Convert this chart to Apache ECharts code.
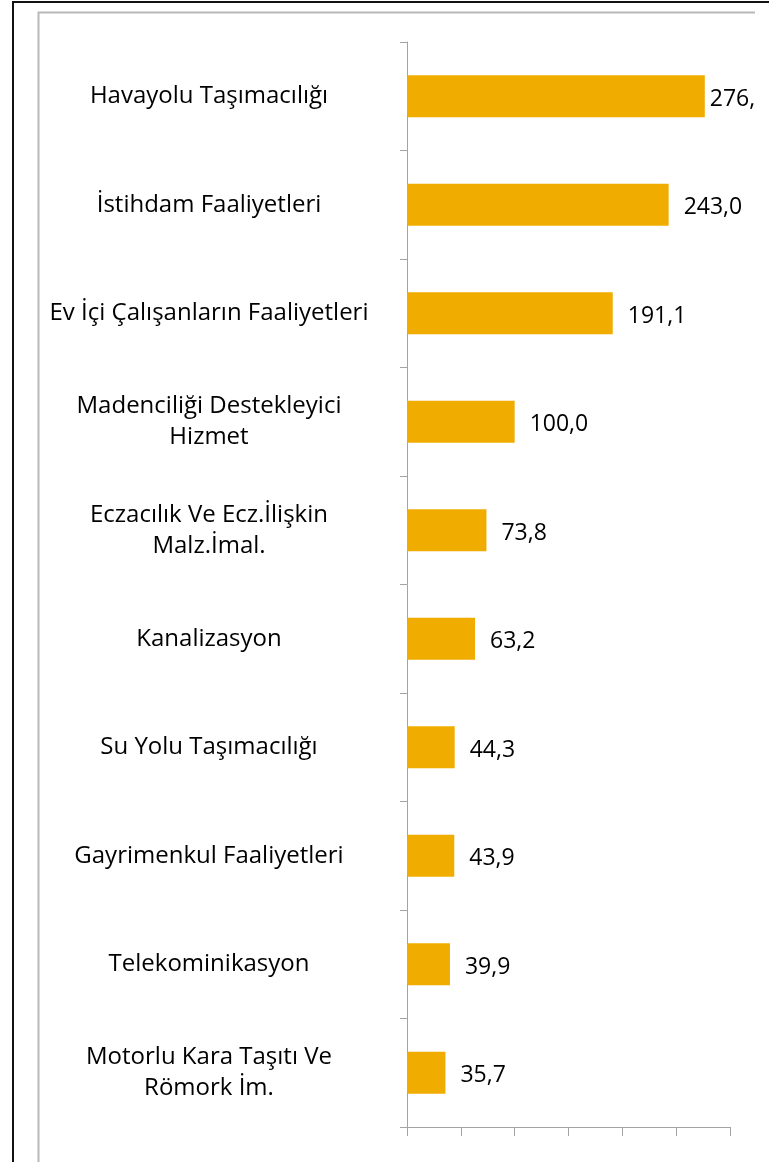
<!DOCTYPE html>
<html>
<head>
<meta charset="utf-8">
<script src="https://cdn.jsdelivr.net/npm/echarts@6/dist/echarts.min.js"></script>
<style>
  html, body { margin: 0; padding: 0; background: #fff; }
  #frame {
    position: absolute; left: 12px; top: 1px; width: 820px; height: 1220px;
    border-left: 2px solid #111; border-top: 2px solid #111;
  }
  #chart { position: absolute; left: 0; top: 0; width: 755px; height: 1162px; }
</style>
</head>
<body>
<div id="frame"></div>
<div id="chart"></div>
<script>
// sektör adları (yukarıdan aşağıya)
var categories = [
  'Havayolu Taşımacılığı',
  'İstihdam Faaliyetleri',
  'Ev İçi Çalışanların Faaliyetleri',
  'Madenciliği Destekleyici\nHizmet',
  'Eczacılık Ve Ecz.İlişkin\nMalz.İmal.',
  'Kanalizasyon',
  'Su Yolu Taşımacılığı',
  'Gayrimenkul Faaliyetleri',
  'Telekominikasyon',
  'Motorlu Kara Taşıtı Ve\nRömork İm.'
];
// değerler
var values = [276.6, 243.0, 191.1, 100.0, 73.8, 63.2, 44.3, 43.9, 39.9, 35.7];
// x ekseni
var axisMin = 0;
var axisMax = 300;
var axisStep = 50;

var fontName = 'Open Sans';

var seriesData = values.map(function (v, i) {
  // ilk etiket çerçeveye sığmadığı için bara daha yakın
  if (i === 0) {
    return { value: v, label: { distance: 5 } };
  }
  return v;
});

var option = {
  animation: false,
  grid: {
    left: 407,
    top: 42,
    right: 25,
    bottom: 35,
    containLabel: false
  },
  xAxis: {
    type: 'value',
    min: axisMin,
    max: axisMax,
    interval: axisStep,
    axisLine: { show: true, lineStyle: { color: '#A3A3A3', width: 1 } },
    axisTick: { show: true, length: 9, lineStyle: { color: '#A3A3A3' } },
    axisLabel: { show: false },
    splitLine: { show: false }
  },
  yAxis: {
    type: 'category',
    inverse: true,
    data: categories,
    axisLine: { show: true, lineStyle: { color: '#A3A3A3', width: 1 } },
    axisTick: { show: true, length: 7, alignWithLabel: false, lineStyle: { color: '#A3A3A3' } },
    axisLabel: {
      align: 'center',
      margin: 198,
      color: '#000',
      fontFamily: fontName,
      fontSize: 24,
      lineHeight: 31
    },
    splitLine: { show: false }
  },
  series: [{
    type: 'bar',
    data: seriesData,
    barWidth: 42,
    itemStyle: { color: '#F0AD00' },
    label: {
      show: true,
      position: 'right',
      distance: 15,
      color: '#000',
      fontFamily: fontName,
      fontSize: 23,
      offset: [0, 3],
      formatter: function (p) {
        return p.value.toFixed(1).replace('.', ',');
      }
    }
  }],
  graphic: [{
    type: 'polyline',
    silent: true,
    shape: { points: [[38.5, 1162], [38.5, 12.5], [757, 12.5]] },
    style: { stroke: '#B8B8B8', lineWidth: 2, fill: null }
  }]
};

var myChart = echarts.init(document.getElementById('chart'));
myChart.setOption(option);
</script>
</body>
</html>
